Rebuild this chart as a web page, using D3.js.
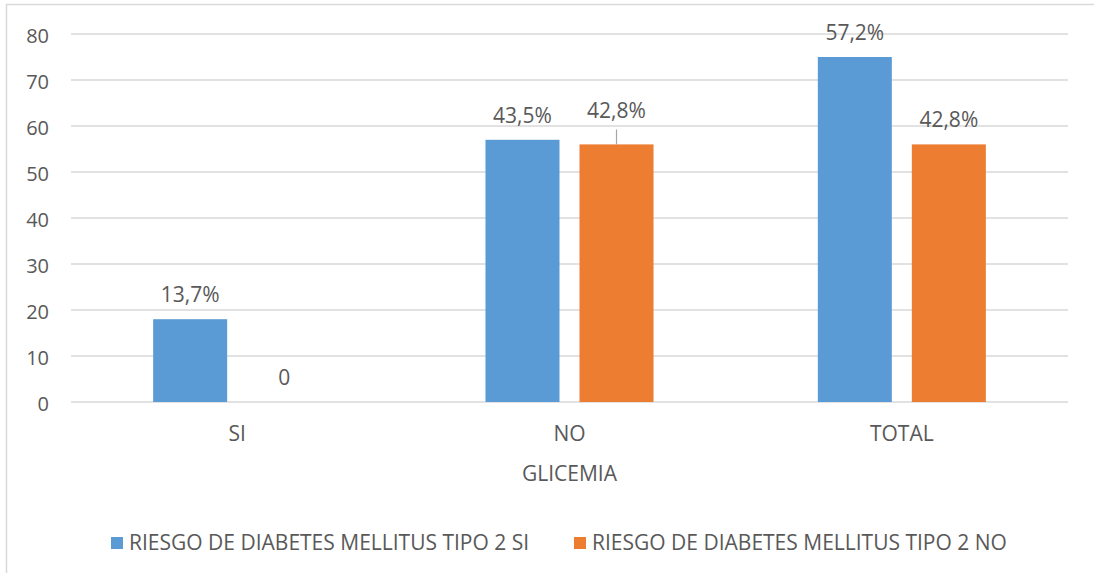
<!DOCTYPE html>
<html>
<head>
<meta charset="utf-8">
<script src="https://cdn.jsdelivr.net/npm/d3@7"></script>
<style>
  html, body { margin: 0; padding: 0; background: #fff; }
  svg { display: block; font-family: "Open Sans", sans-serif; }
</style>
</head>
<body>
<div id="chart"></div>
<script>
// chart values
const categories = ["SI", "NO", "TOTAL"];
const seriesNames = ["RIESGO DE DIABETES MELLITUS TIPO 2 SI", "RIESGO DE DIABETES MELLITUS TIPO 2 NO"];
const riesgoSi = [18, 57, 75];
const riesgoNo = [0, 56, 56];
const labelsSi = ["13,7%", "43,5%", "57,2%"];
const labelsNo = ["0", "42,8%", "42,8%"];
const yTicks = [0, 10, 20, 30, 40, 50, 60, 70, 80];
const axisTitle = "GLICEMIA";

const colors = ["#5B9BD5", "#ED7D31"];
const textColor = "#595959";
const gridColor = "#D9D9D9";
const fontSize = 21;

const width = 1094, height = 573;
const margin = { top: 34, right: 26, bottom: 171, left: 71 };

const svg = d3.select("#chart")
  .append("svg")
  .attr("width", width)
  .attr("height", height);

// outer chart frame (runs past the right/bottom edge of the picture)
svg.append("rect")
  .attr("x", 6.5).attr("y", 4.5)
  .attr("width", 1200).attr("height", 700)
  .attr("fill", "none")
  .attr("stroke", gridColor)
  .attr("stroke-width", 1.5);

const x0 = d3.scaleBand()
  .domain(categories)
  .range([margin.left, width - margin.right])
  .paddingInner(0.4944)
  .paddingOuter(0.2472);

const x1 = d3.scaleBand()
  .domain([0, 1])
  .range([0, x0.bandwidth()])
  .paddingInner(0.2128);

const y = d3.scaleLinear()
  .domain([0, 80])
  .range([height - margin.bottom, margin.top]);

// gridlines
svg.append("g")
  .selectAll("line")
  .data(yTicks)
  .join("line")
  .attr("x1", margin.left)
  .attr("x2", width - margin.right)
  .attr("y1", d => y(d))
  .attr("y2", d => y(d))
  .attr("stroke", gridColor)
  .attr("stroke-width", 1.3);

// y axis labels
const yAxis = svg.append("g")
  .attr("transform", `translate(${margin.left - 22},0)`)
  .call(d3.axisLeft(y).tickValues(yTicks).tickSize(0).tickPadding(0));
yAxis.select(".domain").remove();
yAxis.selectAll("text")
  .attr("fill", textColor)
  .attr("font-size", 20)
  .attr("font-family", "Open Sans, sans-serif")
  .attr("dy", "0.4em");

// x axis labels
const xAxis = svg.append("g")
  .attr("transform", `translate(0,${y(0)})`)
  .call(d3.axisBottom(x0).tickSize(0).tickPadding(0));
xAxis.select(".domain").remove();
xAxis.selectAll("text")
  .attr("fill", textColor)
  .attr("font-size", fontSize)
  .attr("font-family", "Open Sans, sans-serif")
  .attr("dy", null)
  .attr("y", 39);

svg.append("text")
  .attr("x", (margin.left + width - margin.right) / 2)
  .attr("y", 481)
  .attr("text-anchor", "middle")
  .attr("fill", textColor)
  .attr("font-size", fontSize)
  .text(axisTitle);

// bars
const seriesValues = [riesgoSi, riesgoNo];
const seriesLabels = [labelsSi, labelsNo];

const rows = [];
seriesValues.forEach((vals, s) => {
  vals.forEach((v, i) => {
    rows.push({ s, cat: categories[i], value: v, label: seriesLabels[s][i] });
  });
});

svg.append("g")
  .selectAll("rect")
  .data(rows.filter(d => d.value > 0))
  .join("rect")
  .attr("x", d => x0(d.cat) + x1(d.s))
  .attr("y", d => y(d.value))
  .attr("width", x1.bandwidth())
  .attr("height", d => y(0) - y(d.value))
  .attr("fill", d => colors[d.s]);

// data labels; the orange NO label was pulled up with a leader line
const isLifted = d => d.s === 1 && d.cat === "NO";
const labelGap = 17, liftExtra = 9;

svg.append("g")
  .selectAll("line")
  .data(rows.filter(isLifted))
  .join("line")
  .attr("x1", d => x0(d.cat) + x1(d.s) + x1.bandwidth() / 2)
  .attr("x2", d => x0(d.cat) + x1(d.s) + x1.bandwidth() / 2)
  .attr("y1", d => y(d.value) - labelGap - liftExtra + 11)
  .attr("y2", d => y(d.value))
  .attr("stroke", "#A6A6A6")
  .attr("stroke-width", 1.2);

svg.append("g")
  .selectAll("text")
  .data(rows)
  .join("text")
  .attr("x", d => x0(d.cat) + x1(d.s) + x1.bandwidth() / 2)
  .attr("y", d => y(d.value) - labelGap - (isLifted(d) ? liftExtra : 0))
  .attr("text-anchor", "middle")
  .attr("fill", textColor)
  .attr("font-size", fontSize)
  .text(d => d.label);

// legend
const legendX = [111, 574];
const legend = svg.append("g");
seriesNames.forEach((name, s) => {
  legend.append("rect")
    .attr("x", legendX[s])
    .attr("y", 537)
    .attr("width", 12)
    .attr("height", 12)
    .attr("fill", colors[s]);
  legend.append("text")
    .attr("x", legendX[s] + 18)
    .attr("y", 550)
    .attr("fill", textColor)
    .attr("font-size", fontSize)
    .text(name);
});
</script>
</body>
</html>
